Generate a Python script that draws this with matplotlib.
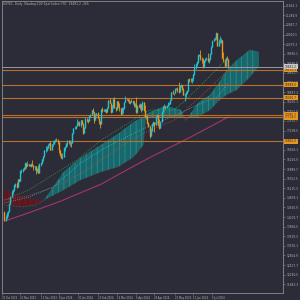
import matplotlib
matplotlib.use("Agg")
import matplotlib.pyplot as plt
import numpy as np

title = "USTEC, Daily  Nasdaq 100 Spot Index CFD  19481.2 -265"

# daily closes, 26 Oct 2023 .. 24 Jul 2024
closes = [14110, 14180, 14330, 14410,
          14665, 14918, 15099, 15156, 15325, 15350, 15244, 15530, 15480, 15813, 15825, 15903, 15900, 16102, 15996, 16065, 16034, 16011, 16067, 16026, 15947,
          15998, 15839, 15899, 15762, 16063, 16085, 16228, 16350, 16548, 16552, 16624, 16717, 16798, 16557, 16757, 16775, 16878, 16906, 16898, 16826,
          16543, 16368, 16282, 16305, 16638, 16674, 16792, 16842, 16832, 16854, 16800, 17157, 17315, 17330, 17384, 17499, 17516, 17421, 17596, 17476, 17137,
          17344, 17643, 17605, 17562, 17756, 17783, 17963, 17882, 17600, 17793, 17845, 17686, 17567, 17478, 17979, 17937, 17977, 17988, 17875, 18043,
          18302, 18224, 17902, 18017, 18339, 18077, 17999, 18267, 18083, 18030, 17808, 17985, 18047, 18240, 18340, 18339, 18281, 18211, 18280, 18255,
          18293, 18145, 18173, 17878, 18085, 18082, 18158, 17967, 18255, 17966, 17706, 17713, 17493, 17395, 17037, 17210, 17471, 17527, 17430, 17718, 17783, 17441,
          17322, 17541, 17890, 18082, 18089, 18073, 18114, 18161, 18189, 18321, 18594, 18558, 18547, 18701, 18735, 18720, 18591, 18808, 18840, 18715, 18505, 18536,
          18573, 18632, 19036, 19022, 19000, 19074, 19210, 19466, 19576, 19659, 19906, 19908, 19752, 19700, 19474, 19701, 19751, 19790, 19683,
          19750, 19941, 20186, 20392, 20439, 20451, 20675, 20212, 20331, 20373, 20418, 19798, 19720, 19522, 19782, 19746, 19481]
highs = [14400, 14290, 14380, 14420,
         14700, 14940, 15150, 15180, 15350, 15400, 15420, 15540, 15540, 15850, 15900, 15920, 15960, 16130, 16080, 16160, 16080, 16060, 16110, 16200, 16030,
         16010, 15900, 15930, 16030, 16090, 16140, 16240, 16360, 16560, 16690, 16680, 16760, 16820, 16860, 16780, 16880, 16910, 16930, 16970, 16940,
         16700, 16500, 16450, 16440, 16650, 16690, 16820, 16900, 16900, 16900, 16820, 17170, 17330, 17400, 17400, 17660, 17590, 17560, 17600, 17620, 17500,
         17350, 17700, 17690, 17650, 17780, 17810, 17970, 18040, 17700, 17820, 17870, 17900, 17650, 17560, 17990, 18080, 18010, 18010, 17960, 18060,
         18310, 18370, 18170, 18120, 18370, 18420, 18060, 18280, 18270, 18220, 17960, 18080, 18060, 18250, 18460, 18370, 18340, 18340, 18290, 18330,
         18310, 18200, 18220, 18410, 18130, 18170, 18190, 18050, 18280, 18200, 18120, 17780, 17800, 17550, 17230, 17330, 17490, 17560, 17460, 17760, 17820, 17780,
         17630, 17580, 17930, 18090, 18170, 18110, 18120, 18240, 18250, 18340, 18600, 18650, 18570, 18740, 18740, 18760, 18960, 18830, 18870, 18790, 18740, 18560,
         18640, 18650, 19040, 19090, 19090, 19080, 19220, 19590, 19620, 19670, 19910, 19940, 20050, 19820, 19780, 19720, 19780, 19820, 19950,
         19770, 19960, 20200, 20410, 20480, 20510, 20690, 20680, 20450, 20560, 20480, 20250, 19980, 19740, 19820, 19870, 19760]
lows = [14060, 14060, 14170, 14250,
        14390, 14750, 14950, 15030, 15130, 15260, 15230, 15250, 15420, 15700, 15760, 15770, 15860, 15880, 15940, 16000, 16010, 15980, 15960, 16000, 15860,
        15850, 15700, 15780, 15750, 15830, 15980, 16050, 16160, 16300, 16480, 16520, 16640, 16720, 16550, 16620, 16710, 16780, 16850, 16880, 16760,
        16450, 16350, 16270, 16230, 16310, 16510, 16650, 16700, 16780, 16700, 16660, 16850, 17130, 17300, 17280, 17480, 17420, 17400, 17380, 17460, 17130,
        17150, 17400, 17540, 17500, 17580, 17720, 17780, 17860, 17500, 17640, 17750, 17670, 17460, 17330, 17800, 17900, 17930, 17880, 17840, 17900,
        18050, 18200, 17870, 17980, 18150, 18040, 17920, 17970, 18050, 17930, 17800, 17960, 17870, 17990, 18320, 18300, 18260, 18200, 18160, 18230,
        18180, 18080, 18080, 17870, 17850, 18060, 17990, 17900, 17950, 17930, 17700, 17660, 17480, 17380, 16970, 17040, 17210, 17400, 17190, 17500, 17680, 17430,
        17300, 17350, 17700, 17900, 18040, 17990, 18030, 18110, 18140, 18180, 18380, 18540, 18480, 18580, 18650, 18610, 18560, 18640, 18760, 18660, 18480, 18290,
        18430, 18510, 18620, 18950, 18940, 18920, 18990, 19200, 19410, 19510, 19610, 19860, 19720, 19620, 19450, 19480, 19640, 19720, 19660,
        19620, 19730, 19950, 20180, 20370, 20410, 20450, 20200, 20220, 20330, 20300, 19790, 19630, 19480, 19580, 19700, 19440]
first_open = 14390

# ichimoku cloud (already shifted forward)
cloud_idx = [0, 14, 26, 33, 49, 63, 80, 94, 107, 115, 117, 121, 133, 146, 150, 160, 170, 178, 184, 192, 203, 210]
span_a = [14627, 14556, 14627, 14802, 15785, 16276, 16733, 17119, 17540, 17715, 17800, 17891, 18101, 17961, 17575, 18207, 18488, 18950, 19365, 19700, 20067, 19997]
span_b = [15153, 14907, 14802, 14802, 15153, 15504, 15785, 15960, 16311, 16733, 17680, 17700, 17715, 17715, 17715, 17715, 17961, 18312, 18500, 18663, 19119, 19470]

# moving averages
ma_green_idx = [0, 20, 40, 60, 80, 100, 120, 140, 150, 160, 170, 180, 185]
ma_green = [14802, 15153, 15680, 16206, 16908, 17435, 17961, 17961, 18312, 18732, 19154, 19611, 19716]
ma_red_idx = [0, 20, 40, 60, 80, 100, 120, 140, 162, 175, 185]
ma_red = [14800, 14950, 15250, 15650, 16200, 16800, 17250, 17600, 18417, 18950, 19365]
ma_cyan_idx = [0, 20, 40, 63, 80, 100, 120, 146, 160, 176, 185]
ma_cyan = [14700, 14900, 15250, 16100, 16550, 17000, 17400, 17860, 18150, 18420, 18900]
ma_slow_idx = [0, 22, 47, 80, 104, 121, 146, 162, 185]
ma_slow = [14060, 14380, 14770, 15360, 15925, 16310, 16840, 17190, 17715]

levels = [19375.3, 18849.0, 18392.7, 17785.2, 17704.5, 16862.0]
bid = 19481.2

date_labels = ["30 Oct 2023", "21 Nov 2023", "12 Dec 2023", "8 Jan 2024", "30 Jan 2024", "21 Feb 2024",
               "14 Mar 2024", "5 Apr 2024", "29 Apr 2024", "21 May 2024", "12 Jun 2024", "5 Jul 2024"]
date_pos = [-2, 13, 30, 45, 61, 77, 93, 109, 124, 141, 156, 172]

bg = '#2b2c38'
fg = '#b4b4b4'
up_col = '#22c3d3'
dn_col = '#e8961e'
lvl_col = '#b8702c'
plt.rcParams['hatch.color'] = '#2f9ea0'
plt.rcParams['hatch.linewidth'] = 0.5

fig = plt.figure(figsize=(3, 3), dpi=100, facecolor=bg)
ax = fig.add_axes([2 / 300, 7 / 300, 281 / 300, 292 / 300], facecolor=bg)

x = np.arange(len(closes))
c = np.array(closes, float)
o = np.concatenate([[first_open], c[:-1]])
h = np.maximum(np.array(highs, float), np.maximum(o, c))
l = np.minimum(np.array(lows, float), np.minimum(o, c))

# cloud
ci = np.array(cloud_idx)
sa = np.array(span_a, float)
sb = np.array(span_b, float)
ax.fill_between(ci, sa, sb, where=sa >= sb, interpolate=True, facecolor='#1a676b',
                hatch='|||', edgecolor='#2a9497', lw=0, zorder=1)
ax.fill_between(ci, sa, sb, where=sa < sb, interpolate=True, facecolor='#5a1820',
                hatch='|||', edgecolor='#6e2028', lw=0, zorder=1)
ax.plot(ci, sa, ls=':', color='#2f9ea0', lw=0.4, zorder=1)
ax.plot(ci, sb, ls=':', color='#7a2a2a', lw=0.4, zorder=1)

ax.plot(ma_green_idx, ma_green, ls=':', color='#3aa53a', lw=0.6, zorder=2)
ax.plot(ma_red_idx, ma_red, ls=':', color='#c0503a', lw=0.6, zorder=2)
ax.plot(ma_cyan_idx, ma_cyan, ls=':', color='#3cb4c8', lw=0.6, zorder=2)
ax.plot(ma_slow_idx, ma_slow, ls='-', color='#a8336e', lw=0.8, zorder=2)

for lv in levels:
    ax.axhline(lv, color=lvl_col, lw=0.8, zorder=2)
ax.axhline(bid, color='#9a9aa0', lw=0.7, zorder=2)

cols = np.where(c >= o, up_col, dn_col)
ax.vlines(x, l, h, colors=cols, lw=0.6, zorder=3)
ax.vlines(x, np.minimum(o, c), np.maximum(o, c), colors=cols, lw=1.0, zorder=3)

ax.set_xlim(-0.82, 230.3)
ax.set_ylim(11537.7, 21786.9)

for s in ax.spines.values():
    s.set_color('#8c8c8c')
    s.set_linewidth(0.6)

ax.yaxis.tick_right()
yt = 11843.3 + 337.2 * np.arange(30)
ax.set_yticks(yt)
ax.set_yticklabels(["%.1f" % v for v in yt])
ax.tick_params(axis='y', colors='#8c8c8c', labelcolor=fg, labelsize=2.1, length=1.5, width=0.4, pad=0.8)
ax.set_xticks(date_pos)
ax.set_xticklabels(date_labels, ha='left')
ax.tick_params(axis='x', colors='#8c8c8c', labelcolor=fg, labelsize=1.8, length=1.5, width=0.4, pad=0.5)

for lv in levels:
    ax.annotate("%.1f" % lv, xy=(1.0, lv), xycoords=('axes fraction', 'data'), xytext=(1.3, 0),
                textcoords='offset points', fontsize=2.1, color='#2b2c38', va='center', ha='left',
                bbox=dict(boxstyle='square,pad=0.25', fc='#e8961e', ec='none'), zorder=5, annotation_clip=False)
ax.annotate("%.1f" % bid, xy=(1.0, bid), xycoords=('axes fraction', 'data'), xytext=(1.3, 0),
            textcoords='offset points', fontsize=2.1, color='#2b2c38', va='center', ha='left',
            bbox=dict(boxstyle='square,pad=0.25', fc='#c8c8c8', ec='none'), zorder=5, annotation_clip=False)

ax.text(0.003, 0.997, title, transform=ax.transAxes, fontsize=2.2, color=fg, va='top', ha='left')

fig.savefig("out.png", dpi=100, facecolor=bg)
